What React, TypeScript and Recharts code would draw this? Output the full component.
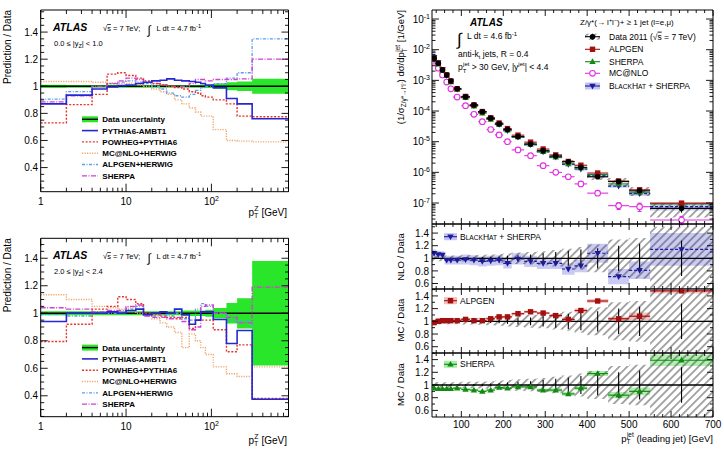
import React from "react";
import { ComposedChart, Line, Area, Scatter, ErrorBar, XAxis, YAxis, ReferenceLine } from "recharts";

const W = 724;
const H = 452;
const FONT = "'Liberation Sans', Arial, Helvetica, sans-serif";

// ---------- Z boson pT: prediction / data in two rapidity slices ----------
const zptEdges = [0, 2, 4, 6, 8, 10, 13, 16, 20, 25, 30, 37, 45, 55, 65, 75, 85, 105, 150, 200, 300, 800];

const centralUnc = [0.012, 0.01, 0.01, 0.01, 0.01, 0.01, 0.01, 0.01, 0.01, 0.01, 0.01, 0.01, 0.01, 0.01, 0.01, 0.012, 0.012, 0.02, 0.03, 0.035, 0.055];
const centralPythia = [0.87, 0.935, 0.98, 0.995, 1.005, 1.01, 1.02, 1.03, 1.04, 1.045, 1.055, 1.045, 1.04, 1.035, 1.03, 1.02, 1.01, 0.99, 0.91, 0.87, 0.76];
const centralPowheg = [0.73, 0.865, 0.94, 1.09, 1.1, 1.08, 1.06, 1.04, 1.02, 1.01, 1.0, 0.99, 0.98, 0.96, 0.95, 0.93, 0.92, 0.9, 0.87, 0.78, 0.775];
const centralMcnlo = [1.035, 1.035, 1.03, 1.025, 1.02, 1.02, 1.01, 1.0, 0.98, 0.96, 0.94, 0.9, 0.87, 0.84, 0.81, 0.78, 0.78, 0.68, 0.6, 0.595, 0.59];
const centralAlpgen = [0.905, 0.96, 1.0, 1.02, 1.03, 1.04, 1.03, 1.02, 1.0, 0.98, 0.95, 0.93, 0.92, 0.94, 0.97, 0.99, 1.0, 1.02, 1.06, 1.1, 1.35];
const centralSherpa = [0.885, 0.93, 1.0, 1.02, 1.04, 1.06, 1.05, 1.03, 1.02, 1.01, 1.0, 1.0, 1.0, 1.02, 1.05, 1.05, 1.04, 1.05, 1.05, 1.055, 1.2];

const forwardUnc = [0.015, 0.015, 0.015, 0.015, 0.015, 0.015, 0.015, 0.015, 0.015, 0.015, 0.015, 0.015, 0.02, 0.02, 0.02, 0.02, 0.025, 0.038, 0.075, 0.11, 0.38];
const forwardPythia = [0.94, 1.0, 1.0, 1.01, 1.0, 1.02, 1.03, 0.99, 1.0, 1.01, 1.0, 1.03, 0.99, 0.92, 0.95, 1.01, 1.01, 0.955, 0.78, 0.875, 0.375];
const forwardPowheg = [0.795, 0.92, 1.03, 1.05, 1.12, 1.1, 1.07, 1.0, 0.99, 0.98, 0.97, 0.96, 0.97, 0.89, 0.95, 0.95, 0.95, 0.88, 0.72, 0.77, 0.38];
const forwardMcnlo = [1.135, 1.1, 1.05, 1.04, 1.03, 1.04, 1.0, 0.98, 0.96, 0.93, 0.9, 0.86, 0.75, 0.85, 0.8, 0.75, 0.7, 0.61, 0.56, 0.54, 0.61];
const forwardAlpgen = [0.99, 0.98, 1.0, 1.0, 1.01, 1.03, 1.05, 0.99, 0.98, 0.99, 0.98, 1.0, 0.96, 0.95, 1.03, 1.07, 1.05, 1.0, 0.95, 0.94, 0.38];
const forwardSherpa = [1.04, 1.03, 1.01, 1.02, 1.02, 1.05, 1.06, 0.98, 0.97, 0.97, 0.96, 0.97, 0.94, 0.88, 0.9, 1.05, 1.06, 1.0, 0.97, 0.93, 1.19];

const zptTicks = [1, 2, 3, 4, 5, 6, 7, 8, 9, 10, 20, 30, 40, 50, 60, 70, 80, 90, 100, 200, 300, 400, 500, 600, 700, 800];
const zptMajor = [1, 10, 100];
const ratioMajor = [0.4, 0.6, 0.8, 1, 1.2, 1.4];

// ---------- leading jet pT in Z + >= 1 jet ----------
const jetEdges = [30, 40, 50, 60, 70, 80, 100, 120, 140, 160, 180, 200, 220, 250, 280, 310, 340, 370, 400, 450, 500, 550, 700];
const dataXsec = [5.2e-3, 3.6e-3, 2.2e-3, 1.5e-3, 9.5e-4, 5.3e-4, 2.9e-4, 1.57e-4, 9.5e-5, 5.8e-5, 3.8e-5, 2.5e-5, 1.46e-5, 8.4e-6, 5.1e-6, 3.4e-6, 2.2e-6, 1.46e-6, 7.2e-7, 5.0e-7, 2.5e-7, 6.7e-8];
const dataStat = [0.005, 0.005, 0.005, 0.006, 0.007, 0.008, 0.01, 0.015, 0.02, 0.025, 0.03, 0.04, 0.05, 0.06, 0.08, 0.1, 0.12, 0.14, 0.16, 0.2, 0.23, 0.28];
const dataTotal = [0.05, 0.045, 0.045, 0.045, 0.045, 0.045, 0.05, 0.05, 0.055, 0.06, 0.07, 0.08, 0.09, 0.1, 0.11, 0.13, 0.15, 0.18, 0.22, 0.3, 0.32, 0.5];
const mcnloXsec = [4.2e-3, 2.5e-3, 1.5e-3, 8.8e-4, 5.3e-4, 2.85e-4, 1.5e-4, 7.8e-5, 4.5e-5, 2.5e-5, 1.66e-5, 1.0e-5, 5.4e-6, 3.5e-6, 1.65e-6, 1.0e-6, 7.2e-7, 4.2e-7, 2.1e-7, 8.2e-8, 7.6e-8, 2.8e-8];
const mcnloStat = [0.01, 0.01, 0.01, 0.01, 0.01, 0.01, 0.01, 0.01, 0.02, 0.02, 0.02, 0.03, 0.03, 0.04, 0.05, 0.06, 0.08, 0.1, 0.12, 0.25, 0.3, 0.3];
const nloRatio = [1.08, 1.06, 1.05, 0.97, 0.97, 0.97, 0.98, 0.97, 0.95, 0.96, 0.97, 0.92, 0.99, 0.95, 0.92, 0.92, 0.83, 0.88, 1.08, 0.71, 0.81, 1.14];
const nloUnc = [0.06, 0.06, 0.06, 0.07, 0.07, 0.07, 0.08, 0.08, 0.08, 0.08, 0.08, 0.08, 0.09, 0.09, 0.09, 0.09, 0.09, 0.1, 0.15, 0.12, 0.14, 0.26];
const alpgenRatio = [0.98, 1.0, 1.01, 1.01, 1.01, 1.01, 1.03, 1.01, 1.01, 1.04, 1.07, 1.07, 1.12, 1.15, 1.13, 1.09, 1.03, 1.17, 1.32, 1.04, 1.08, 1.48];
const alpgenUnc = [0.02, 0.02, 0.02, 0.02, 0.02, 0.02, 0.02, 0.02, 0.02, 0.02, 0.02, 0.02, 0.02, 0.02, 0.02, 0.025, 0.03, 0.03, 0.03, 0.03, 0.06, 0.04];
const sherpaRatio = [0.95, 0.94, 0.94, 0.94, 0.94, 0.95, 0.93, 0.92, 0.9, 0.92, 0.96, 0.95, 0.97, 0.97, 0.92, 0.92, 0.86, 0.95, 1.18, 0.84, 0.9, 1.39];
const sherpaUnc = [0.02, 0.02, 0.02, 0.02, 0.02, 0.02, 0.02, 0.02, 0.02, 0.02, 0.02, 0.02, 0.02, 0.025, 0.025, 0.03, 0.03, 0.03, 0.04, 0.05, 0.06, 0.09];

const jetMajor = [100, 200, 300, 400, 500, 600, 700];
const xsecMajor = [1e-7, 1e-6, 1e-5, 1e-4, 1e-3, 1e-2, 1e-1];
const ratioPanelMajor = [0.6, 0.8, 1, 1.2, 1.4];

// colours
const C = {
  pythia: "#2626d2",
  powheg: "#e6352b",
  mcnloZ: "#f1a56c",
  alpgenZ: "#5a9ee8",
  sherpaZ: "#d23ed2",
  green: "#2ae62a",
  alp: "#a3100f",
  alpBand: "#f4bcbc",
  she: "#128a12",
  sheBand: "#a8eea8",
  mc: "#e22ee2",
  nlo: "#1c1c9a",
  nloBand: "#c4c4f4",
};

type Box = { left: number; top: number; width: number; height: number };

// every axis is 1px thick, so the margins leave that pixel out on each side
const margins = (b: Box) => ({ left: b.left - 1, top: b.top - 1, right: W - b.left - b.width - 1, bottom: H - b.top - b.height - 1 });

const range = (a: number, b: number, step: number) => {
  const out: number[] = [];
  for (let v = a; v <= b + step / 1000; v += step) out.push(Math.round(v * 1e6) / 1e6);
  return out;
};

const near = (a: number, b: number) => Math.abs(a - b) <= 1e-6 * Math.max(Math.abs(a), Math.abs(b));

type TickCfg = {
  side: "left" | "right" | "top" | "bottom";
  majors: number[];
  big?: number;
  small?: number;
  label?: (v: number) => React.ReactNode;
  gap?: number;
  fontSize?: number;
};

// ROOT-style inward ticks, labels only on major ticks
function tickRenderer(cfg: TickCfg) {
  const { side, majors, big = 6, small = 3, label, gap = 3, fontSize = 10 } = cfg;
  return function AxisTick(props: any) {
    const { x, y, payload } = props;
    const v = Number(payload && payload.value);
    const major = majors.some((m) => near(m, v));
    const len = major ? big : small;
    const x2 = side === "left" ? x + len : side === "right" ? x - len : x;
    const y2 = side === "bottom" ? y - len : side === "top" ? y + len : y;
    let text: React.ReactNode = null;
    if (major && label) {
      text =
        side === "left" ? (
          <text x={x - gap} y={y} dy="0.36em" textAnchor="end" fontSize={fontSize} fontFamily={FONT} fill="#000">
            {label(v)}
          </text>
        ) : (
          <text x={x} y={y + gap} textAnchor="middle" fontSize={fontSize} fontFamily={FONT} fill="#000">
            {label(v)}
          </text>
        );
    }
    return (
      <g>
        <line x1={x} y1={y} x2={x2} y2={y2} stroke="#000" strokeWidth={0.9} />
        {text}
      </g>
    );
  };
}

const decimalLabel = (v: number) => (near(v, 1) ? "1" : v.toFixed(1));
const zptLabel = (v: number) =>
  near(v, 100) ? (
    <>
      10<tspan dy={-4} fontSize={7}>2</tspan>
    </>
  ) : (
    String(v)
  );
const powLabel = (v: number) => (
  <>
    10<tspan dy={-4} fontSize={7}>{String(Math.round(Math.log10(v)))}</tspan>
  </>
);

const axisBase = { tickSize: 0, tickMargin: 0, tickLine: false, interval: 0 as const, axisLine: { stroke: "#000", strokeWidth: 1 } };
const layer: React.CSSProperties = { position: "absolute", left: 0, top: 0 };

// ---------- left panels ----------
type ZSet = { unc: number[]; pythia: number[]; powheg: number[]; mcnlo: number[]; alpgen: number[]; sherpa: number[] };

const central: ZSet = { unc: centralUnc, pythia: centralPythia, powheg: centralPowheg, mcnlo: centralMcnlo, alpgen: centralAlpgen, sherpa: centralSherpa };
const forward: ZSet = { unc: forwardUnc, pythia: forwardPythia, powheg: forwardPowheg, mcnlo: forwardMcnlo, alpgen: forwardAlpgen, sherpa: forwardSherpa };

const zLines = [
  { key: "mcnlo", label: "MC@NLO+HERWIG", color: C.mcnloZ, dash: "1.2 1.3", width: 1.4 },
  { key: "alpgen", label: "ALPGEN+HERWIG", color: C.alpgenZ, dash: "3 1.5 1 1.5", width: 1.3 },
  { key: "sherpa", label: "SHERPA", color: C.sherpaZ, dash: "5 1.5 1 1.5", width: 1.3 },
  { key: "powheg", label: "POWHEG+PYTHIA6", color: C.powheg, dash: "2 1.6", width: 1.4 },
  { key: "pythia", label: "PYTHIA6-AMBT1", color: C.pythia, dash: undefined, width: 1.6 },
];

function ZPanel({ box, yDomain, set }: { box: Box; yDomain: [number, number]; set: ZSet }) {
  const rows = zptEdges.map((e, i) => {
    const k = Math.min(i, zptEdges.length - 2);
    return {
      x: Math.max(e, 1),
      band: [1 - set.unc[k], 1 + set.unc[k]],
      pythia: set.pythia[k],
      powheg: set.powheg[k],
      mcnlo: set.mcnlo[k],
      alpgen: set.alpgen[k],
      sherpa: set.sherpa[k],
    };
  });
  const yTicks = range(0.25, 1.55, 0.05).filter((v) => v >= yDomain[0] && v <= yDomain[1]);
  const xProps = { dataKey: "x", type: "number" as const, scale: "log" as const, domain: [1, 800], allowDataOverflow: true, ticks: zptTicks, height: 1 };
  const yProps = { type: "number" as const, domain: yDomain, allowDataOverflow: true, ticks: yTicks, width: 1 };
  return (
    <div style={layer}>
      <ComposedChart width={W} height={H} margin={margins(box)} data={rows}>
        <XAxis {...xProps} {...axisBase} tick={tickRenderer({ side: "bottom", majors: zptMajor, big: 8, small: 4, label: zptLabel, gap: 13.6 })} />
        <XAxis {...xProps} {...axisBase} xAxisId="top" orientation="top" tick={tickRenderer({ side: "top", majors: zptMajor, big: 8, small: 4 })} />
        <YAxis {...yProps} {...axisBase} tick={tickRenderer({ side: "left", majors: ratioMajor, big: 7, small: 3.5, label: decimalLabel, gap: 2.5 })} />
        <YAxis {...yProps} {...axisBase} yAxisId="right" orientation="right" tick={tickRenderer({ side: "right", majors: ratioMajor, big: 7, small: 3.5 })} />
        <Area dataKey="band" type="stepAfter" stroke="none" fill={C.green} fillOpacity={1} isAnimationActive={false} activeDot={false} />
        <ReferenceLine y={1} stroke="#000" strokeWidth={1.4} />
        {zLines.map((l) => (
          <Line
            key={l.key}
            dataKey={l.key}
            type="stepAfter"
            stroke={l.color}
            strokeWidth={l.width}
            strokeDasharray={l.dash}
            dot={false}
            activeDot={false}
            isAnimationActive={false}
          />
        ))}
      </ComposedChart>
    </div>
  );
}

// ---------- right panels ----------
type Mk = (x: number, y: number) => React.ReactElement;
const mk = {
  dot: (c: string): Mk => (x, y) => <circle cx={x} cy={y} r={2.8} fill={c} />,
  square: (c: string): Mk => (x, y) => <rect x={x - 2.7} y={y - 2.7} width={5.4} height={5.4} fill={c} />,
  up: (c: string): Mk => (x, y) => <polygon points={`${x},${y - 3.4} ${x + 3.2},${y + 2.3} ${x - 3.2},${y + 2.3}`} fill={c} />,
  down: (c: string): Mk => (x, y) => <polygon points={`${x},${y + 3.4} ${x + 3.2},${y - 2.3} ${x - 3.2},${y - 2.3}`} fill={c} />,
  ring: (c: string): Mk => (x, y) => <circle cx={x} cy={y} r={2.8} fill="#fff" stroke={c} strokeWidth={1.1} />,
};
const asShape = (m: Mk) => (p: any) => m(p.cx, p.cy);
const noShape = () => <g />;

const jetCenters = jetEdges.slice(0, -1).map((e, i) => (e + jetEdges[i + 1]) / 2);
const jetHalf = jetEdges.slice(0, -1).map((e, i) => (jetEdges[i + 1] - e) / 2);
const jetTicks = range(40, 700, 20);

const jetX = (showLabels: boolean) => {
  const p = { dataKey: "x", type: "number" as const, domain: [30, 700], allowDataOverflow: true, ticks: jetTicks, height: 1 };
  return [
    <XAxis key="b" {...p} {...axisBase} tick={tickRenderer({ side: "bottom", majors: jetMajor, big: 6, small: 3, label: showLabels ? (v) => String(v) : undefined, gap: 10.5 })} />,
    <XAxis key="t" {...p} {...axisBase} xAxisId="top" orientation="top" tick={tickRenderer({ side: "top", majors: jetMajor, big: 6, small: 3 })} />,
  ];
};

function SpectrumPanel({ box }: { box: Box }) {
  const n = dataXsec.length;
  const bands = jetEdges.map((e, i) => {
    const k = Math.min(i, n - 1);
    const d = dataXsec[k];
    const p = d * nloRatio[k];
    return { x: e, hatch: [d * (1 - dataTotal[k]), d * (1 + dataTotal[k])], nlo: [p * (1 - nloUnc[k]), p * (1 + nloUnc[k])] };
  });
  const pts = dataXsec.map((d, k) => ({
    x: jetCenters[k],
    xe: jetHalf[k],
    data: d,
    dataErr: d * dataStat[k],
    mcnlo: mcnloXsec[k],
    mcErr: mcnloXsec[k] * mcnloStat[k],
    alpgen: d * alpgenRatio[k],
    sherpa: d * sherpaRatio[k],
    nlo: d * nloRatio[k],
  }));
  const yTicks: number[] = [];
  for (let e = -8; e <= -1; e++) for (let m = 1; m <= 9; m++) yTicks.push(m * Math.pow(10, e));
  const dom: [number, number] = [2.07e-8, 0.197];
  const yP = { type: "number" as const, scale: "log" as const, domain: dom, allowDataOverflow: true, ticks: yTicks.filter((v) => v >= dom[0] && v <= dom[1]), width: 1 };
  return (
    <div style={layer}>
      <ComposedChart width={W} height={H} margin={margins(box)} data={bands}>
        {jetX(false)}
        <YAxis {...yP} {...axisBase} tick={tickRenderer({ side: "left", majors: xsecMajor, big: 7, small: 3.5, label: powLabel, gap: 2 })} />
        <YAxis {...yP} {...axisBase} yAxisId="right" orientation="right" tick={tickRenderer({ side: "right", majors: xsecMajor, big: 7, small: 3.5 })} />
        <Area dataKey="nlo" type="stepAfter" stroke="none" fill={C.nloBand} fillOpacity={0.9} isAnimationActive={false} activeDot={false} />
        <Area dataKey="hatch" type="stepAfter" stroke="none" fill="url(#hatch)" fillOpacity={1} isAnimationActive={false} activeDot={false} />
        <Scatter data={pts} dataKey="mcnlo" shape={asShape(mk.ring(C.mc))} isAnimationActive={false}>
          <ErrorBar dataKey="xe" direction="x" width={0} stroke={C.mc} strokeWidth={1.1} />
          <ErrorBar dataKey="mcErr" direction="y" width={2} stroke={C.mc} strokeWidth={1.1} />
        </Scatter>
        <Scatter data={pts} dataKey="nlo" shape={asShape(mk.down(C.nlo))} isAnimationActive={false}>
          <ErrorBar dataKey="xe" direction="x" width={0} stroke={C.nlo} strokeWidth={1.1} strokeDasharray="3 2" />
        </Scatter>
        <Scatter data={pts} dataKey="sherpa" shape={asShape(mk.up(C.she))} isAnimationActive={false}>
          <ErrorBar dataKey="xe" direction="x" width={0} stroke={C.she} strokeWidth={1.1} />
        </Scatter>
        <Scatter data={pts} dataKey="alpgen" shape={asShape(mk.square(C.alp))} isAnimationActive={false}>
          <ErrorBar dataKey="xe" direction="x" width={0} stroke={C.alp} strokeWidth={1.1} />
        </Scatter>
        <Scatter data={pts} dataKey="data" shape={asShape(mk.dot("#000"))} isAnimationActive={false}>
          <ErrorBar dataKey="xe" direction="x" width={0} stroke="#000" strokeWidth={1.1} />
          <ErrorBar dataKey="dataErr" direction="y" width={0} stroke="#000" strokeWidth={1.1} />
        </Scatter>
      </ComposedChart>
    </div>
  );
}

type RatioCfg = {
  box: Box;
  yDomain: [number, number];
  ratio: number[];
  unc: number[];
  color: string;
  band: string;
  marker: Mk;
  dash?: string;
  showLabels?: boolean;
};

function RatioPanel({ box, yDomain, ratio, unc, color, band, marker, dash, showLabels = false }: RatioCfg) {
  const n = ratio.length;
  const bands = jetEdges.map((e, i) => {
    const k = Math.min(i, n - 1);
    return { x: e, hatch: [1 - dataTotal[k], 1 + dataTotal[k]], pred: [ratio[k] - unc[k], ratio[k] + unc[k]] };
  });
  const pts = ratio.map((r, k) => ({ x: jetCenters[k], xe: jetHalf[k], one: 1, stat: dataStat[k], r }));
  const yTicks = range(0.6, 1.5, 0.1).filter((v) => v >= yDomain[0] && v <= yDomain[1]);
  const yP = { type: "number" as const, domain: yDomain, allowDataOverflow: true, ticks: yTicks, width: 1 };
  return (
    <div style={layer}>
      <ComposedChart width={W} height={H} margin={margins(box)} data={bands}>
        {jetX(showLabels)}
        <YAxis {...yP} {...axisBase} tick={tickRenderer({ side: "left", majors: ratioPanelMajor, big: 6, small: 3, label: decimalLabel, gap: 3 })} />
        <YAxis {...yP} {...axisBase} yAxisId="right" orientation="right" tick={tickRenderer({ side: "right", majors: ratioPanelMajor, big: 6, small: 3 })} />
        <Area dataKey="pred" type="stepAfter" stroke="none" fill={band} fillOpacity={0.9} isAnimationActive={false} activeDot={false} />
        <Area dataKey="hatch" type="stepAfter" stroke="none" fill="url(#hatch)" fillOpacity={1} isAnimationActive={false} activeDot={false} />
        <ReferenceLine y={1} stroke="#000" strokeWidth={1.3} />
        <Scatter data={pts} dataKey="one" shape={noShape} isAnimationActive={false}>
          <ErrorBar dataKey="stat" direction="y" width={0} stroke="#000" strokeWidth={1.1} />
        </Scatter>
        <Scatter data={pts} dataKey="r" shape={asShape(marker)} isAnimationActive={false}>
          <ErrorBar dataKey="xe" direction="x" width={0} stroke={color} strokeWidth={1.2} strokeDasharray={dash} />
        </Scatter>
      </ComposedChart>
    </div>
  );
}

// ---------- labels, legends ----------
function ZText({ dy, lo, hi }: { dy: number; lo: string; hi: string }) {
  return (
    <g>
      <text transform={`translate(11,${10 + dy}) rotate(-90)`} textAnchor="end" fontSize={10}>
        Prediction / Data
      </text>
      <text x={53} y={31 + dy} fontSize={10.5} fontWeight="bold" fontStyle="italic">
        ATLAS
      </text>
      <text x={103} y={31 + dy} fontSize={7.5}>
        √<tspan textDecoration="overline">s</tspan> = 7 TeV;
      </text>
      <text x={147.5} y={34 + dy} fontSize={12}>
        ∫
      </text>
      <text x={156.5} y={31 + dy} fontSize={7.5}>
        L dt = 4.7 fb<tspan dy={-3} fontSize={5.5}>-1</tspan>
      </text>
      <text x={54} y={45.5 + dy} fontSize={7.5}>
        {lo} ≤ |y<tspan dy={2} fontSize={5.5}>Z</tspan>
        <tspan dy={-2}>{"| < " + hi}</tspan>
      </text>
      <text x={287} y={215.5 + dy} textAnchor="end" fontSize={10}>
        p<tspan dy={2.5} fontSize={7}>T</tspan>
        <tspan dx={-4} dy={-7} fontSize={7}>Z</tspan>
        <tspan dy={4.5}> [GeV]</tspan>
      </text>
      {/* legend */}
      <g>
        <rect x={82} y={116.3 + dy} width={16} height={6} fill={C.green} />
        <line x1={82} x2={98} y1={119.3 + dy} y2={119.3 + dy} stroke="#000" strokeWidth={1.4} />
        <text x={102.3} y={122.2 + dy} fontSize={8} fontWeight="bold">
          Data uncertainty
        </text>
        {["pythia", "powheg", "mcnlo", "alpgen", "sherpa"].map((key, i) => {
          const l = zLines.find((z) => z.key === key)!;
          const yc = 119.3 + (i + 1) * 11.3 + dy;
          return (
            <g key={key}>
              <line x1={82} x2={98} y1={yc} y2={yc} stroke={l.color} strokeWidth={l.width} strokeDasharray={l.dash} />
              <text x={102.3} y={yc + 2.9} fontSize={8} fontWeight="bold">
                {l.label}
              </text>
            </g>
          );
        })}
      </g>
    </g>
  );
}

const BlackHat = ({ small }: { small: number }) => (
  <>
    B<tspan fontSize={small}>LACK</tspan>H<tspan fontSize={small}>AT</tspan> + SHERPA
  </>
);

function JetText() {
  const legend = [
    { y: 36.7, label: <>Data 2011 (√<tspan textDecoration="overline">s</tspan> = 7 TeV)</>, kind: "data" },
    { y: 49.3, label: <>ALPGEN</>, kind: "alp" },
    { y: 61.7, label: <>SHERPA</>, kind: "she" },
    { y: 73.3, label: <>MC@NLO</>, kind: "mc" },
    { y: 86, label: <BlackHat small={6.6} />, kind: "nlo" },
  ];
  const sample = (kind: string, y: number, x0: number, x1: number) => {
    const xm = (x0 + x1) / 2;
    if (kind === "data")
      return (
        <g>
          <rect x={x0} y={y - 3} width={x1 - x0} height={6} fill="url(#hatch)" />
          <line x1={x0} x2={x1} y1={y} y2={y} stroke="#000" strokeWidth={1.1} />
          <line x1={xm} x2={xm} y1={y - 3} y2={y + 3} stroke="#000" strokeWidth={1.1} />
          {mk.dot("#000")(xm, y)}
        </g>
      );
    if (kind === "alp")
      return (
        <g>
          <line x1={x0} x2={x1} y1={y} y2={y} stroke={C.alp} strokeWidth={1.1} />
          {mk.square(C.alp)(xm, y)}
        </g>
      );
    if (kind === "she")
      return (
        <g>
          <line x1={x0} x2={x1} y1={y} y2={y} stroke={C.she} strokeWidth={1.1} />
          {mk.up(C.she)(xm, y)}
        </g>
      );
    if (kind === "mc")
      return (
        <g>
          <line x1={x0} x2={x1} y1={y} y2={y} stroke={C.mc} strokeWidth={1.1} />
          {mk.ring(C.mc)(xm, y)}
        </g>
      );
    return (
      <g>
        <rect x={x0} y={y - 3.5} width={x1 - x0} height={7} fill={C.nloBand} />
        <line x1={x0} x2={x1} y1={y} y2={y} stroke={C.nlo} strokeWidth={1.1} />
        {mk.down(C.nlo)(xm, y)}
      </g>
    );
  };
  const ratioLegend = [
    { y: 236.7, kind: "nlo", label: <BlackHat small={6.6} />, band: C.nloBand, color: C.nlo },
    { y: 300.7, kind: "alp", label: <>ALPGEN</>, band: C.alpBand, color: C.alp },
    { y: 364.3, kind: "she", label: <>SHERPA</>, band: C.sheBand, color: C.she },
  ];
  return (
    <g>
      <text transform="translate(404,10) rotate(-90)" textAnchor="end" fontSize={9.5}>
        (1/σ<tspan dy={2} fontSize={6.5}>Z/γ*→l⁺l⁻</tspan>
        <tspan dy={-2}>) dσ/dp</tspan>
        <tspan dy={2.5} fontSize={6.5}>T</tspan>
        <tspan dx={-3.5} dy={-7} fontSize={6.5}>jet</tspan>
        <tspan dy={4.5}> [1/GeV]</tspan>
      </text>
      <text x={470} y={25.5} fontSize={10} fontWeight="bold" fontStyle="italic">
        ATLAS
      </text>
      <text x={457} y={45} fontSize={17}>
        ∫
      </text>
      <text x={467} y={39} fontSize={8.5}>
        L dt = 4.6 fb<tspan dy={-3.5} fontSize={6}>-1</tspan>
      </text>
      <text x={458} y={57} fontSize={8.5}>
        anti-k<tspan dy={2} fontSize={6}>t</tspan>
        <tspan dy={-2}> jets, R = 0.4</tspan>
      </text>
      <text x={458} y={70} fontSize={8.5}>
        p<tspan dy={2.5} fontSize={6}>T</tspan>
        <tspan dx={-3.3} dy={-7} fontSize={6}>jet</tspan>
        <tspan dy={4.5}>{" > 30 GeV, |y"}</tspan>
        <tspan dy={-4} fontSize={6}>jet</tspan>
        <tspan dy={4}>{"| < 4.4"}</tspan>
      </text>
      <text x={580} y={24.5} fontSize={8}>
        Z/γ*(→ l<tspan dy={-3} fontSize={5.5}>+</tspan>
        <tspan dy={3}>l</tspan>
        <tspan dy={-3} fontSize={5.5}>−</tspan>
        <tspan dy={3}>)+ ≥ 1 jet (l=e,μ)</tspan>
      </text>
      {legend.map((e, i) => (
        <g key={i}>
          {sample(e.kind, e.y, 585, 600)}
          <text x={609} y={e.y + 3} fontSize={8.5}>
            {e.label}
          </text>
        </g>
      ))}
      {ratioLegend.map((e, i) => (
        <g key={i}>
          <rect x={444} y={e.y - 3.5} width={13} height={7} fill={e.band} />
          <line x1={444} x2={457} y1={e.y} y2={e.y} stroke={e.color} strokeWidth={1.1} />
          {(e.kind === "nlo" ? mk.down(e.color) : e.kind === "alp" ? mk.square(e.color) : mk.up(e.color))(450.5, e.y)}
          <text x={460} y={e.y + 3} fontSize={8.5}>
            {e.label}
          </text>
        </g>
      ))}
      <text transform="translate(404,257) rotate(-90)" textAnchor="middle" fontSize={9.5}>
        NLO / Data
      </text>
      <text transform="translate(404,320) rotate(-90)" textAnchor="middle" fontSize={9.5}>
        MC / Data
      </text>
      <text transform="translate(404,384.5) rotate(-90)" textAnchor="middle" fontSize={9.5}>
        MC / Data
      </text>
      <text x={713} y={441.5} textAnchor="end" fontSize={9.5}>
        p<tspan dy={2.5} fontSize={6.5}>T</tspan>
        <tspan dx={-3.5} dy={-7} fontSize={6.5}>jet</tspan>
        <tspan dy={4.5}> (leading jet) [GeV]</tspan>
      </text>
    </g>
  );
}

const zBoxes: Box[] = [
  { left: 40.7, top: 10, width: 247.8, height: 181.7 },
  { left: 40.7, top: 238.3, width: 247.8, height: 178.4 },
];
const spectrumBox: Box = { left: 432, top: 10, width: 281, height: 214 };
const ratioBoxes: Box[] = [
  { left: 432, top: 224, width: 281, height: 65 },
  { left: 432, top: 289, width: 281, height: 64 },
  { left: 432, top: 353, width: 281, height: 64 },
];

export default function App() {
  return (
    <div style={{ position: "absolute", left: 0, top: 0, width: W, height: H, background: "#fff", overflow: "hidden", fontFamily: FONT }}>
      <svg width={0} height={0} style={{ position: "absolute" }}>
        <defs>
          <pattern id="hatch" patternUnits="userSpaceOnUse" width={5.6} height={5.6} patternTransform="rotate(45)">
            <line x1={2.8} y1={0} x2={2.8} y2={5.6} stroke="#3c3c3c" strokeWidth={0.9} />
          </pattern>
        </defs>
      </svg>
      <ZPanel box={zBoxes[0]} yDomain={[0.222, 1.563]} set={central} />
      <ZPanel box={zBoxes[1]} yDomain={[0.248, 1.545]} set={forward} />
      <SpectrumPanel box={spectrumBox} />
      <RatioPanel box={ratioBoxes[0]} yDomain={[0.513, 1.544]} ratio={nloRatio} unc={nloUnc} color={C.nlo} band={C.nloBand} marker={mk.down(C.nlo)} dash="3 2" />
      <RatioPanel box={ratioBoxes[1]} yDomain={[0.501, 1.509]} ratio={alpgenRatio} unc={alpgenUnc} color={C.alp} band={C.alpBand} marker={mk.square(C.alp)} />
      <RatioPanel box={ratioBoxes[2]} yDomain={[0.496, 1.504]} ratio={sherpaRatio} unc={sherpaUnc} color={C.she} band={C.sheBand} marker={mk.up(C.she)} showLabels />
      <svg width={W} height={H} style={{ position: "absolute", left: 0, top: 0, pointerEvents: "none" }} fontFamily={FONT} fill="#000">
        <ZText dy={0} lo="0.0" hi="1.0" />
        <ZText dy={228.3} lo="2.0" hi="2.4" />
        <JetText />
      </svg>
    </div>
  );
}
